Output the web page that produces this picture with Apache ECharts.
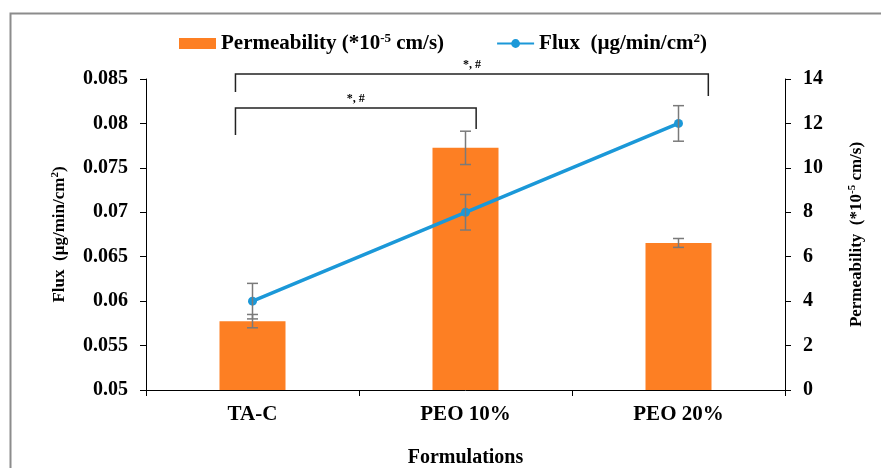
<!DOCTYPE html>
<html>
<head>
<meta charset="utf-8">
<script src="https://cdn.jsdelivr.net/npm/echarts@6/dist/echarts.min.js"></script>
<style>
  html, body { margin: 0; padding: 0; background: #fff; }
  #main { width: 881px; height: 468px; }
</style>
</head>
<body>
<div id="main"></div>
<script>
var chartDom = document.getElementById('main');
var myChart = echarts.init(chartDom);
var option;

// data
let categories = ['TA-C', 'PEO 10%', 'PEO 20%'];
let permeability = [3.1, 10.9, 6.62];
let permeabilityErr = [0.3, 0.75, 0.2];
let flux = [0.06, 0.07, 0.08];
let fluxErr = [0.002, 0.002, 0.002];
let fluxTicks = [0.05, 0.085];
let permTicks = [0, 14];
// significance brackets: from/to category (+ fraction of a band), bar level and leg ends in permeability units
let brackets = [
  { from: 0, fromShift: -0.08, to: 2, toShift: 0.14, level: 14.23, leftEnd: 13.42, rightEnd: 13.24, label: '*, #' },
  { from: 0, fromShift: -0.08, to: 1, toShift: 0.05, level: 12.7, leftEnd: 11.48, rightEnd: 11.75, label: '*, #' }
];

let font = 'Liberation Serif';
let orange = '#fd7f23';
let blue = '#1b98d8';
let errColor = '#7a7a7a';

function errorBarItem(params, api) {
  let x = api.value(0);
  let lo = api.coord([x, api.value(1)]);
  let hi = api.coord([x, api.value(2)]);
  let hw = 5.5;
  let st = { stroke: errColor, lineWidth: 1.5 };
  return {
    type: 'group',
    children: [
      { type: 'line', shape: { x1: lo[0], y1: lo[1], x2: hi[0], y2: hi[1] }, style: st },
      { type: 'line', shape: { x1: lo[0] - hw, y1: lo[1], x2: lo[0] + hw, y2: lo[1] }, style: st },
      { type: 'line', shape: { x1: hi[0] - hw, y1: hi[1], x2: hi[0] + hw, y2: hi[1] }, style: st }
    ]
  };
}

let permErrData = permeability.map(function (v, i) {
  return [i, v - permeabilityErr[i], v + permeabilityErr[i]];
});
let fluxErrData = flux.map(function (v, i) {
  return [i, v - fluxErr[i], v + fluxErr[i]];
});
let bracketData = brackets.map(function (b) {
  return [b.from, b.to, b.level, b.leftEnd, b.rightEnd, b.fromShift, b.toShift];
});

let supStyle = { fontFamily: font, fontWeight: 'bold', fontSize: 11, verticalAlign: 'top', padding: [0, 0, 9, 0] };
let nameStyle = {
  color: '#000', fontFamily: font, fontWeight: 'bold', fontSize: 17,
  rich: { sup: supStyle }
};

option = {
  animation: false,
  backgroundColor: '#fff',
  grid: { left: 146, right: 96, top: 79, bottom: 78, outerBoundsMode: 'none', containLabel: false },
  legend: {
    top: 32,
    left: 179,
    padding: 0,
    itemGap: 52,
    itemWidth: 37,
    itemHeight: 11,
    data: [
      { name: 'Permeability', icon: 'rect' },
      { name: 'Flux' }
    ],
    formatter: function (name) {
      if (name === 'Permeability') return 'Permeability (*10{sup|-5} cm/s)';
      return 'Flux  (µg/min/cm{sup|2})';
    },
    textStyle: {
      color: '#000', fontFamily: font, fontWeight: 'bold', fontSize: 21,
      rich: { sup: { fontFamily: font, fontWeight: 'bold', fontSize: 13, verticalAlign: 'top', padding: [0, 0, 10, 0] } }
    }
  },
  xAxis: {
    type: 'category',
    data: categories,
    name: 'Formulations',
    nameLocation: 'middle',
    nameGap: 58,
    nameTextStyle: { color: '#000', fontFamily: font, fontWeight: 'bold', fontSize: 20 },
    axisLine: { lineStyle: { color: '#000', width: 1 } },
    axisTick: { show: true, length: 6, lineStyle: { color: '#000' } },
    axisLabel: { color: '#000', fontFamily: font, fontWeight: 'bold', fontSize: 21, margin: 14 }
  },
  yAxis: [
    {
      type: 'value',
      position: 'left',
      min: fluxTicks[0],
      max: fluxTicks[1],
      interval: 0.005,
      name: 'Flux  (µg/min/cm{sup|2})',
      nameLocation: 'middle',
      nameRotate: 90,
      nameGap: 76,
      nameTextStyle: nameStyle,
      axisLine: { show: true, lineStyle: { color: '#000', width: 1 } },
      axisTick: { show: true, length: 6, lineStyle: { color: '#000' } },
      axisLabel: { color: '#000', fontFamily: font, fontWeight: 'bold', fontSize: 20, margin: 18 },
      splitLine: { show: false }
    },
    {
      type: 'value',
      position: 'right',
      min: permTicks[0],
      max: permTicks[1],
      interval: 2,
      name: 'Permeability  (*10{sup|-5} cm/s)',
      nameLocation: 'middle',
      nameRotate: 90,
      nameGap: 62,
      nameTextStyle: nameStyle,
      axisLine: { show: true, lineStyle: { color: '#000', width: 1 } },
      axisTick: { show: true, length: 6, lineStyle: { color: '#000' } },
      axisLabel: { color: '#000', fontFamily: font, fontWeight: 'bold', fontSize: 20, margin: 18 },
      splitLine: { show: false }
    }
  ],
  series: [
    {
      name: 'Permeability',
      type: 'bar',
      yAxisIndex: 1,
      data: permeability,
      barWidth: 66,
      itemStyle: { color: orange }
    },
    {
      type: 'custom',
      yAxisIndex: 1,
      data: permErrData,
      renderItem: errorBarItem,
      z: 5
    },
    {
      name: 'Flux',
      type: 'line',
      yAxisIndex: 0,
      data: flux,
      symbol: 'circle',
      symbolSize: 9,
      lineStyle: { color: blue, width: 3.5 },
      itemStyle: { color: blue },
      z: 4
    },
    {
      type: 'custom',
      yAxisIndex: 0,
      data: fluxErrData,
      renderItem: errorBarItem,
      z: 6
    },
    {
      type: 'custom',
      yAxisIndex: 1,
      data: bracketData,
      clip: false,
      renderItem: function (params, api) {
        let band = api.size([1, 0])[0];
        let a = api.coord([api.value(0), api.value(2)]);
        let b = api.coord([api.value(1), api.value(2)]);
        let la = api.coord([api.value(0), api.value(3)]);
        let rb = api.coord([api.value(1), api.value(4)]);
        let x1 = a[0] + api.value(5) * band;
        let x2 = b[0] + api.value(6) * band;
        let st = { stroke: '#222', lineWidth: 1.5, fill: null };
        return {
          type: 'group',
          children: [
            { type: 'polyline', shape: { points: [[x1, la[1]], [x1, a[1]], [x2, b[1]], [x2, rb[1]]] }, style: st },
            {
              type: 'text',
              style: {
                text: brackets[params.dataIndex].label,
                x: (x1 + x2) / 2, y: a[1] - 3,
                align: 'center', verticalAlign: 'bottom',
                fontFamily: font, fontWeight: 'bold', fontSize: 12, fill: '#000'
              }
            }
          ]
        };
      },
      z: 7
    }
  ],
  graphic: [
    {
      type: 'polyline',
      shape: { points: [[881, 13.5], [10.5, 13.5], [10.5, 468]] },
      style: { stroke: '#8c8c8c', lineWidth: 2, fill: null },
      silent: true
    }
  ]
};

option && myChart.setOption(option);
</script>
</body>
</html>
